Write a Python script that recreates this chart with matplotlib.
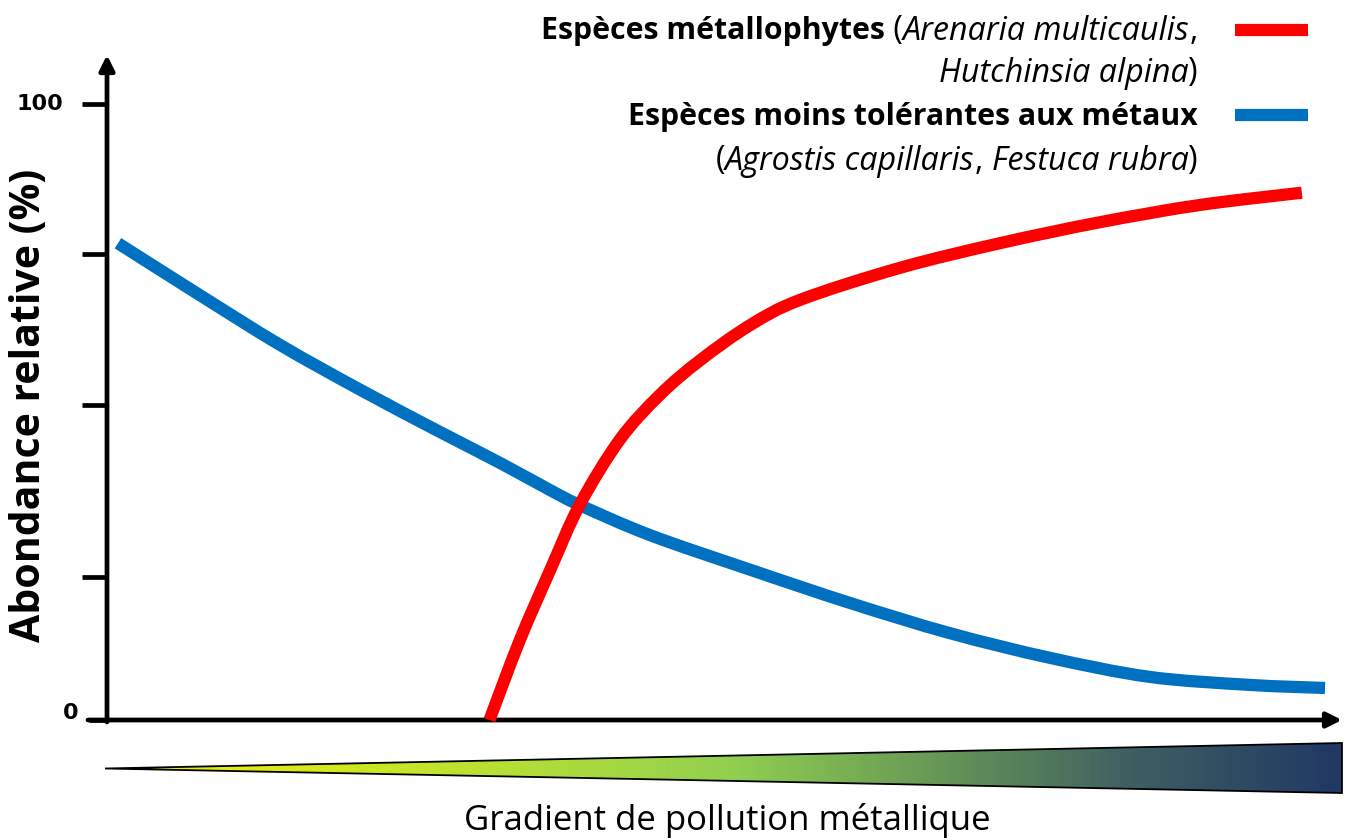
import numpy as np
import matplotlib
matplotlib.use("Agg")
import matplotlib.pyplot as plt
from matplotlib.colors import LinearSegmentedColormap
from matplotlib.patches import Polygon, PathPatch
from matplotlib.path import Path

# ---- data ----
blue_x = [0.9, 7.6, 14.2, 20.8, 27.3, 32.3, 36.4, 38.8, 44.6, 52.8, 61.0, 69.2, 77.4, 85.6, 93.8, 100.0]
blue_y = [77.4, 69.0, 60.9, 53.6, 46.8, 41.7, 37.3, 34.9, 30.0, 24.4, 19.0, 14.1, 10.1, 7.0, 5.7, 5.2]
red_x = [31.4, 33.9, 36.4, 38.8, 42.1, 45.4, 48.7, 52.8, 56.9, 65.1, 73.3, 81.5, 89.7, 98.1]
red_y = [0.0, 13.0, 24.4, 34.9, 45.5, 52.8, 58.4, 64.1, 68.2, 73.4, 77.4, 80.8, 83.6, 85.6]
tick_values = [0, 23.2, 51.1, 75.6, 100]
tick_labels = {0: "0", 100: "100"}
ylabel = "Abondance relative (%)"
xlabel = "Gradient de pollution métallique"
gradient_stops = [0.0, 0.24, 0.505, 0.66, 0.83, 1.0]
gradient_colors = ["#f2f200", "#c6e52a", "#92d050", "#6a9c56", "#3f5f62", "#203864"]

W, H = 1352, 840
fig = plt.figure(figsize=(W / 100, H / 100), dpi=100)
FONT = ["Open Sans", "DejaVu Sans"]


def smooth_path(xs, ys):
    """Catmull-Rom curve through the points, as cubic Bezier segments."""
    p = np.column_stack([xs, ys]).astype(float)
    ext = np.vstack([p[0], p, p[-1]])
    verts = [tuple(p[0])]
    codes = [Path.MOVETO]
    for i in range(1, len(ext) - 2):
        p0, p1, p2, p3 = ext[i - 1], ext[i], ext[i + 1], ext[i + 2]
        c1 = p1 + (p2 - p0) / 6.0
        c2 = p2 - (p3 - p1) / 6.0
        verts += [tuple(c1), tuple(c2), tuple(p2)]
        codes += [Path.CURVE4] * 3
    return Path(verts, codes)


# data axes: x 0..100 -> px 107..1325, y 0..100 -> px 720..104
L, R, T, B = 107, 1325, 104, 720
ax = fig.add_axes([L / W, 1 - B / H, (R - L) / W, (B - T) / H])
ax.set_xlim(0, 100)
ax.set_ylim(0, 100)
ax.axis("off")
for xs, ys, col, z in [(blue_x, blue_y, "#0070C0", 3), (red_x, red_y, "#FF0000", 4)]:
    pp = PathPatch(smooth_path(xs, ys), fc="none", ec=col, lw=8.8, capstyle="butt",
                   joinstyle="round", clip_on=False, zorder=z)
    ax.add_patch(pp)

# overlay axes in pixel coordinates
ov = fig.add_axes([0, 0, 1, 1], zorder=-1)
ov.axis("off")

# axes with arrows
ov.annotate("", xy=(107, 55), xytext=(107, 722),
            arrowprops=dict(arrowstyle="-|>,head_length=0.9,head_width=0.45", lw=3.4, color="black",
                            shrinkA=0, shrinkB=0))
ov.annotate("", xy=(1342, 720), xytext=(88, 720),
            arrowprops=dict(arrowstyle="-|>,head_length=0.9,head_width=0.45", lw=3.4, color="black",
                            shrinkA=0, shrinkB=0))

# ticks
for v in tick_values:
    py = B - v / 100 * (B - T)
    ov.plot([82 if v != 0 else 89, 107], [py, py], color="black", lw=3.4, solid_capstyle="butt")
for v, lab in tick_labels.items():
    py = B - v / 100 * (B - T)
    if v == 0:
        ov.text(78, py - 7, lab, ha="right", va="center", fontsize=16, fontweight="bold",
                family="DejaVu Sans")
    else:
        ov.text(63, py, lab, ha="right", va="center", fontsize=16, fontweight="bold",
                family="DejaVu Sans")

ov.text(30, 405, ylabel, rotation=90, ha="center", va="center", fontsize=29.5,
        fontweight="bold", family=FONT)

# gradient triangle
tri = [(105, 768.5), (1342, 743), (1342, 793)]
cmap = LinearSegmentedColormap.from_list("g", list(zip(gradient_stops, gradient_colors)))
grad = np.linspace(0, 1, 512).reshape(1, -1)
im = ov.imshow(grad, cmap=cmap, extent=(105, 1342, 793, 743), aspect="auto", zorder=1)
poly = Polygon(tri, closed=True, fc="none", ec="black", lw=1.3, zorder=2)
ov.add_patch(poly)
im.set_clip_path(poly)
ov.set_xlim(0, W)
ov.set_ylim(H, 0)

ov.text(727, 820, xlabel, ha="center", va="center", fontsize=25, family=FONT)

# legend with mixed styles, right-aligned at x=1198
fig.canvas.draw()
renderer = fig.canvas.get_renderer()
SIZE = {"bold": 21.8, "normal": 23.2}
lines = [
    (27, [("Espèces métallophytes", "bold", "normal"), (" (", "normal", "normal"),
          ("Arenaria multicaulis", "normal", "italic"), (",", "normal", "normal")]),
    (69, [("Hutchinsia alpina", "normal", "italic"), (")", "normal", "normal")]),
    (114, [("Espèces moins tolérantes aux métaux", "bold", "normal")]),
    (157, [("(", "normal", "normal"), ("Agrostis capillaris", "normal", "italic"),
           (", ", "normal", "normal"), ("Festuca rubra", "normal", "italic"), (")", "normal", "normal")]),
]
for py, segs in lines:
    x = 1198
    for txt, wt, st in reversed(segs):
        t = ov.text(x, py, txt, ha="right", va="center_baseline", fontsize=SIZE[wt], fontweight=wt,
                    fontstyle=st, family=FONT)
        bb = t.get_window_extent(renderer)
        x -= bb.width
ov.plot([1235, 1308], [30, 30], color="#FF0000", lw=8.8, solid_capstyle="butt")
ov.plot([1235, 1308], [115, 115], color="#0070C0", lw=8.8, solid_capstyle="butt")

fig.savefig("out.png", dpi=100)
